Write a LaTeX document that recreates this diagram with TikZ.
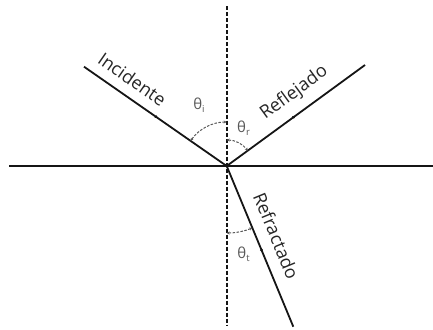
\documentclass[tikz,border=0pt]{standalone}
\usepackage{fontspec}
\setmainfont{Open Sans}
\usetikzlibrary{arrows.meta,decorations.markings,calc}
\definecolor{ink}{HTML}{151515}
\definecolor{lbl}{HTML}{262626}
\definecolor{ang}{HTML}{585858}
\begin{document}
\begin{tikzpicture}[x=1pt,y=-1pt,
  axisline/.style={draw=ink, line width=1.9pt},
  normalline/.style={draw=ink, line width=2pt, dash pattern=on 4pt off 2pt},
  ray/.style={draw=ink, line width=1.8pt, postaction={decorate},
    decoration={markings, mark=at position #1 with {\arrow{Latex[length=3.5pt,width=3.4pt]}}}},
  ray/.default=0.5,
  raylabel/.style={sloped, above=#1, inner sep=0pt, text=lbl, font=\fontsize{18}{18}\selectfont},
  raylabel/.default=10pt,
  angarc/.style={draw=ang, line width=1pt, dash pattern=on 2.5pt off 1.5pt,
    {Stealth[length=3pt,width=3pt]}-{Stealth[length=3pt,width=3pt]}},
  anglabel/.style={text=ang, inner sep=0pt, font=\fontsize{15}{15}\selectfont}
]
\useasboundingbox (0,0) rectangle (433,329);
\coordinate (O) at (226.7,166);
\coordinate (HL) at (9.3,166);
\coordinate (HR) at (433,166);
\coordinate (VT) at (226.7,6.5);
\coordinate (VB) at (226.7,325);
\coordinate (A) at (84,66.7);
\coordinate (B) at (365,65);
\coordinate (T) at (293.3,326.7);

\draw[axisline] (HL) -- (HR);
\draw[normalline] (VT) -- (VB);
\draw[ray=0.52] (A) -- (O);
\draw[ray=0.5] (O) -- (B);
\draw[ray=0.54] (O) -- (T);

\path (A) -- node[raylabel, pos=0.27] (inc) {Incidente} (O);
\path (O) -- node[raylabel, pos=0.57] (refl) {Reflejado} (B);
\path (O) -- node[raylabel=12pt, pos=0.48] (refr) {Refractado} (T);

\draw[angarc] ($(O)+(-90:44)$) arc[start angle=-90, end angle=-145.2, radius=44];
\draw[angarc] ($(O)+(-90:26)$) arc[start angle=-90, end angle=-36.1, radius=26];
\draw[angarc] ($(O)+(90:67)$) arc[start angle=90, end angle=67.5, radius=67];

\node[anglabel] (ti) at (199,105) {θ\raisebox{-0.35ex}{\fontsize{9.5}{9.5}\selectfont i}};
\node[anglabel] (tr) at (243.5,128.3) {θ\raisebox{-0.35ex}{\fontsize{9.5}{9.5}\selectfont r}};
\node[anglabel] (tt) at (243.5,254) {θ\raisebox{-0.35ex}{\fontsize{9.5}{9.5}\selectfont t}};
\end{tikzpicture}
\end{document}
